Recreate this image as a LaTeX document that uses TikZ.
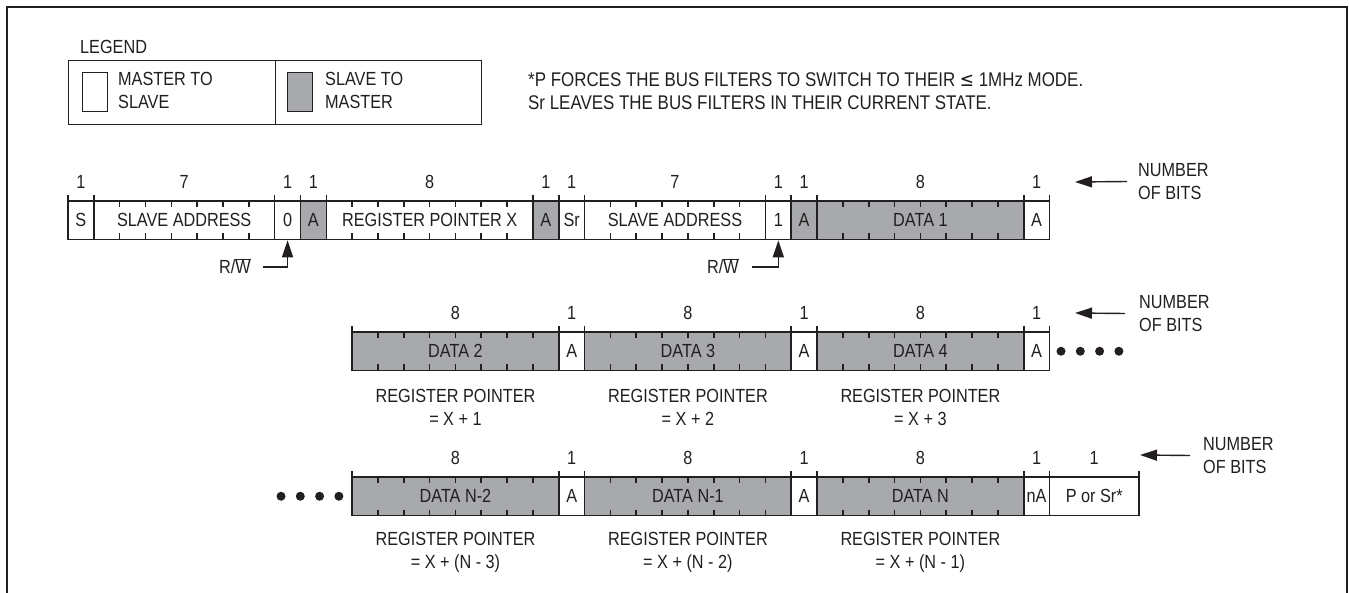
\documentclass[tikz,border=0pt]{standalone}
\usepackage{fontspec}
\setmainfont{Liberation Sans}[FakeStretch=0.855]
\newfontfamily\symf{DejaVu Sans}[FakeStretch=0.855]
\usetikzlibrary{arrows.meta,calc}
\definecolor{sgrey}{HTML}{A7A9AC}
\definecolor{ink}{HTML}{231F20}
\tikzset{
  every node/.style={font=\fontsize{19}{23}\selectfont, text=ink},
  field/.style={draw=ink, line width=1.6pt, minimum height=38.5pt, inner sep=0pt},
  bittick/.style={draw=ink, line width=1.6pt},
  numlbl/.style={inner sep=0pt},
  arr/.style={draw=ink, line width=1.4pt, -{Triangle[length=17pt,width=11pt]}},
  bigdot/.style={fill=ink, circle, minimum size=9pt, inner sep=0pt},
  plain/.style={inner sep=0pt, align=left},
  notetext/.style={inner sep=0pt, align=left, font=\fontsize{19.8}{23}\selectfont},
  rplbl/.style={inner sep=0pt, align=center},
  legbox/.style={draw=ink, line width=1.4pt, inner sep=0pt, minimum height=64pt, anchor=north west},
  legsq/.style={draw=ink, line width=1.2pt, inner sep=0pt, minimum width=25pt, minimum height=39pt, anchor=north west},
}
\newcommand\bitw{25.83}
\newcommand\xorig{68}
% name, start bit, end bit, fill, text, row top, bit count
\newcommand\bitfield[7]{%
  \pgfmathsetmacro\xa{\xorig+#2*\bitw}%
  \pgfmathsetmacro\xb{\xorig+#3*\bitw}%
  \pgfmathsetmacro\wdt{\xb-\xa}%
  \pgfmathsetmacro\xm{(\xa+\xb)/2}%
  \node[field, fill=#4, minimum width=\wdt pt] (#1) at (\xm, #6+19.25) {#5};
  \node[numlbl] (#1n) at (\xm, #6-19.5) {#7};
  \draw[bittick] (\xa,#6-6) -- (\xa,#6);
  \draw[bittick] (\xb,#6-6) -- (\xb,#6);
  \ifnum#7>1
    \pgfmathtruncatemacro\nt{#7-1}%
    \foreach \k in {1,...,\nt}{%
      \pgfmathsetmacro\xt{\xa+\k*\bitw}%
      \draw[bittick] (\xt,#6) -- (\xt,#6+6);
      \draw[bittick] (\xt,#6+32.5) -- (\xt,#6+38.5);
    }%
  \fi
}
\begin{document}
\begin{tikzpicture}[x=1pt,y=-1pt]
\useasboundingbox (0,0) rectangle (1349,593);
% frame
\draw[ink, line width=2pt] (7,593) -- (7,7) -- (1347,7) -- (1347,593);

% legend
\node[plain, anchor=west] (legend) at (80,46.5) {LEGEND};
\node[legbox, minimum width=207pt] (leg1) at (68,60) {};
\node[legbox, minimum width=206pt] (leg2) at (275,60) {};
\node[legsq, fill=white] (sq1) at (82,72) {};
\node[legsq, fill=sgrey] (sq2) at (287,72) {};
\node[plain, anchor=west] (lt1) at (118,90.5) {MASTER TO\\SLAVE};
\node[plain, anchor=west] (lt2) at (325,90.5) {SLAVE TO\\MASTER};

% notes
\node[notetext, anchor=west] (note) at (528,91.5) {*P FORCES THE BUS FILTERS TO SWITCH TO THEIR {\symf ≤} 1MHz MODE.\\Sr LEAVES THE BUS FILTERS IN THEIR CURRENT STATE.};

% row 1
\bitfield{a1}{0}{1}{white}{S}{201}{1}
\bitfield{a2}{1}{8}{white}{SLAVE ADDRESS}{201}{7}
\bitfield{a3}{8}{9}{white}{0}{201}{1}
\bitfield{a4}{9}{10}{sgrey}{A}{201}{1}
\bitfield{a5}{10}{18}{white}{REGISTER POINTER X}{201}{8}
\bitfield{a6}{18}{19}{sgrey}{A}{201}{1}
\bitfield{a7}{19}{20}{white}{Sr}{201}{1}
\bitfield{a8}{20}{27}{white}{SLAVE ADDRESS}{201}{7}
\bitfield{a9}{27}{28}{white}{1}{201}{1}
\bitfield{a10}{28}{29}{sgrey}{A}{201}{1}
\bitfield{a11}{29}{37}{sgrey}{DATA 1}{201}{8}
\bitfield{a12}{37}{38}{white}{A}{201}{1}

% R/W arrows
\node[plain] (rw1) at (235,266) {R/$\overline{\mbox{W}}$};
\coordinate (rw1s) at (263,267);
\draw[arr] (rw1s) -| (a3.south);
\node[plain] (rw2) at (723,266) {R/$\overline{\mbox{W}}$};
\coordinate (rw2s) at (752,267);
\draw[arr] (rw2s) -| (a9.south);

% number of bits 1
\node[plain, anchor=west] (nb1) at (1138,181.5) {NUMBER\\OF BITS};
\coordinate (nb1t) at (1075,182);
\draw[arr] ([xshift=-11pt]nb1.west) -- (nb1t);

% row 2
\bitfield{b1}{11}{19}{sgrey}{DATA 2}{332}{8}
\bitfield{b2}{19}{20}{white}{A}{332}{1}
\bitfield{b3}{20}{28}{sgrey}{DATA 3}{332}{8}
\bitfield{b4}{28}{29}{white}{A}{332}{1}
\bitfield{b5}{29}{37}{sgrey}{DATA 4}{332}{8}
\bitfield{b6}{37}{38}{white}{A}{332}{1}
\foreach \i in {0,1,2,3}{\node[bigdot] (d2\i) at (1061+\i*19.3,351.25) {};}
\node[rplbl] (rp1) at ($(b1.south)+(0,36.5)$) {REGISTER POINTER\\= X + 1};
\node[rplbl] (rp2) at ($(b3.south)+(0,36.5)$) {REGISTER POINTER\\= X + 2};
\node[rplbl] (rp3) at ($(b5.south)+(0,36.5)$) {REGISTER POINTER\\= X + 3};
\node[plain, anchor=west] (nb2) at (1139,313.5) {NUMBER\\OF BITS};
\coordinate (nb2t) at (1075,313);
\draw[arr] ([xshift=-14pt]nb2.west) -- (nb2t);

% row 3
\bitfield{c1}{11}{19}{sgrey}{DATA N-2}{477}{8}
\bitfield{c2}{19}{20}{white}{A}{477}{1}
\bitfield{c3}{20}{28}{sgrey}{DATA N-1}{477}{8}
\bitfield{c4}{28}{29}{white}{A}{477}{1}
\bitfield{c5}{29}{37}{sgrey}{DATA N}{477}{8}
\bitfield{c6}{37}{38}{white}{nA}{477}{1}
\bitfield{c7}{38}{41.46}{white}{P or Sr*}{477}{1}
\foreach \i in {0,1,2,3}{\node[bigdot] (d3\i) at (281+\i*19.3,496.25) {};}
\node[rplbl] (rp4) at ($(c1.south)+(0,36.5)$) {REGISTER POINTER\\= X + (N - 3)};
\node[rplbl] (rp5) at ($(c3.south)+(0,36.5)$) {REGISTER POINTER\\= X + (N - 2)};
\node[rplbl] (rp6) at ($(c5.south)+(0,36.5)$) {REGISTER POINTER\\= X + (N - 1)};
\node[plain, anchor=west] (nb3) at (1203,455.5) {NUMBER\\OF BITS};
\coordinate (nb3t) at (1140,455);
\draw[arr] ([xshift=-13pt]nb3.west) -- (nb3t);
\end{tikzpicture}
\end{document}
